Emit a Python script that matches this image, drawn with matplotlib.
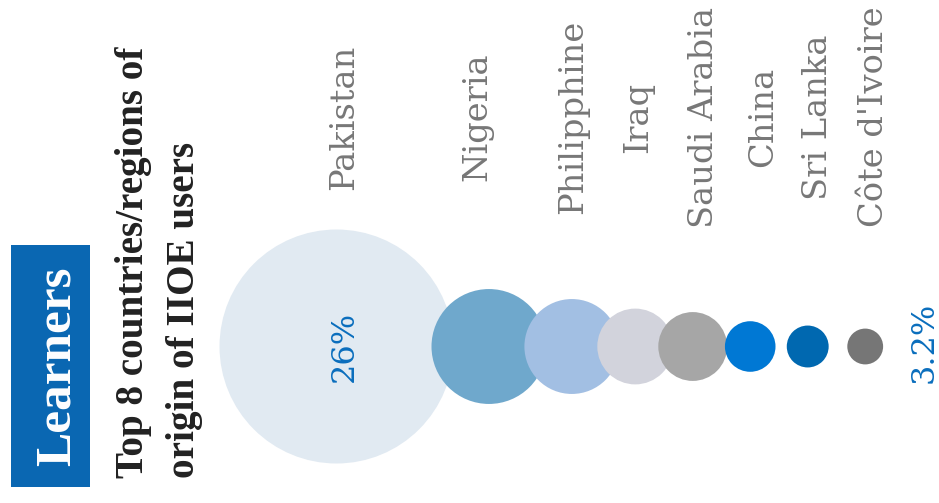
import matplotlib
matplotlib.use("Agg")
import matplotlib.pyplot as plt
from matplotlib.patches import Circle, Rectangle

# ---- data ----
countries = ["Pakistan", "Nigeria", "Philipphine", "Iraq", "Saudi Arabia",
             "China", "Sri Lanka", "Côte d'Ivoire"]
shares = [26.0, 12.3, 10.0, 7.8, 7.0, 4.9, 3.9, 3.2]          # percent of users
share_labels = ["26%", "", "", "", "", "", "", "3.2%"]
colors = ["#e1eaf2", "#6fa8cc", "#a2bfe3", "#d2d3dc", "#a6a6a6",
          "#0078d4", "#0068b0", "#767676"]
badge_text = "Learners"
title_lines = ["Top 8 countries/regions of", "origin of IIOE users"]

# ---- layout / style ----
W, H = 939, 503
fig = plt.figure(figsize=(W / 100, H / 100), dpi=100)
ax = fig.add_axes([0, 0, 1, 1])
ax.set_xlim(0, W)
ax.set_ylim(H, 0)
ax.axis("off")

# radius scale (pixels) : r = r0 + k * share
r_small, r_big = 17.9, 117.0
k = (r_big - r_small) / (max(shares) - min(shares))
r0 = r_big - k * max(shares)
radii = [r0 + k * v for v in shares]

# horizontal packing: neighbouring bubbles overlap a bit, with a minimum step
start_x, cy = 336.5, 346.5
overlap, min_step = 22.0, 57.5
centers = [start_x]
for i in range(1, len(radii)):
    step = max(min_step, radii[i - 1] + radii[i] - overlap)
    centers.append(centers[-1] + step)

for cx, r, c in zip(centers, radii, colors):
    ax.add_patch(Circle((cx, cy), r, facecolor=c, edgecolor="none", zorder=2))

# country labels (rotated)
label_nudge = [16.5, -2.8, 10.4, 12.0, 20.6, 22.0, 19.6, 18.0]
for cx, name, dx in zip(centers, countries, label_nudge):
    ax.text(cx + dx, 117, name, rotation=90, rotation_mode="anchor",
            ha="center", va="baseline", family="DejaVu Serif",
            fontsize=24.3, color="#777777", zorder=3)

# value labels
val_color = "#0a6ebd"
n = len(shares)
for i, lab in enumerate(share_labels):
    if not lab:
        continue
    if i == 0:
        x = centers[i] + 16.5
        y = cy
    else:
        x = centers[i] + radii[i] + 50
        y = cy - 4
    ax.text(x, y, lab, rotation=90, rotation_mode="anchor", ha="center",
            va="baseline", family="DejaVu Serif", fontsize=23,
            color=val_color, zorder=4)

# badge
ax.add_patch(Rectangle((11, 245), 79, 242, facecolor="#0a67b2",
                       edgecolor="none", zorder=2))
ax.text(70, 366, badge_text, rotation=90, rotation_mode="anchor",
        ha="center", va="baseline", family="Liberation Serif",
        fontweight="bold", fontsize=37, color="white", zorder=3)

# title
for bx, line in zip([143, 194], title_lines):
    ax.text(bx, 478, line, rotation=90, rotation_mode="anchor",
            ha="left", va="baseline", family="Liberation Serif",
            fontweight="bold", fontsize=28.2, color="#222222", zorder=3)

fig.savefig("out.png", dpi=100, facecolor="white")
